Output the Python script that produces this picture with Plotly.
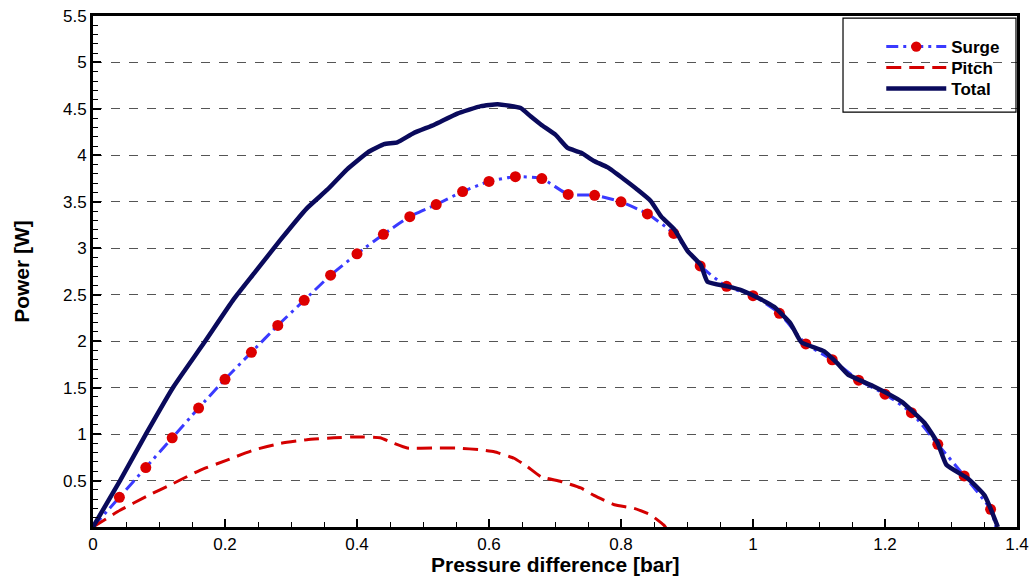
import plotly.graph_objects as go

# Surge (markers every 0.04 bar, line starts at origin and ends at zero)
surge_x = [0.0, 0.04, 0.08, 0.12, 0.16, 0.20, 0.24, 0.28, 0.32, 0.36, 0.40, 0.44, 0.48,
           0.52, 0.56, 0.60, 0.64, 0.68, 0.72, 0.76, 0.80, 0.84, 0.88, 0.92, 0.96,
           1.00, 1.04, 1.08, 1.12, 1.16, 1.20, 1.24, 1.28, 1.32, 1.36, 1.368]
surge_y = [0.0, 0.32, 0.64, 0.96, 1.28, 1.59, 1.88, 2.17, 2.44, 2.71, 2.94, 3.15, 3.34,
           3.47, 3.61, 3.72, 3.77, 3.75, 3.58, 3.57, 3.50, 3.37, 3.16, 2.81, 2.59,
           2.49, 2.30, 1.97, 1.80, 1.58, 1.43, 1.23, 0.89, 0.55, 0.19, 0.0]

pitch_x = [0.0, 0.041, 0.081, 0.122, 0.162, 0.203, 0.244, 0.284, 0.324, 0.365, 0.400,
           0.435, 0.456, 0.476, 0.517, 0.552, 0.588, 0.608, 0.638, 0.658, 0.679, 0.709,
           0.739, 0.759, 0.790, 0.820, 0.845, 0.865, 0.870]
pitch_y = [0.0, 0.18, 0.33, 0.47, 0.61, 0.72, 0.83, 0.90, 0.94, 0.96, 0.97,
           0.96, 0.90, 0.85, 0.85, 0.85, 0.83, 0.81, 0.74, 0.65, 0.54, 0.49,
           0.42, 0.34, 0.24, 0.20, 0.13, 0.02, -0.03]

total_x = [0.0, 0.041, 0.081, 0.122, 0.168, 0.213, 0.244, 0.284, 0.324, 0.355, 0.385,
           0.416, 0.441, 0.461, 0.486, 0.517, 0.552, 0.588, 0.613, 0.648, 0.663, 0.679,
           0.701, 0.719, 0.739, 0.759, 0.780, 0.805, 0.825, 0.845, 0.861, 0.881, 0.901,
           0.921, 0.931, 0.961, 0.982, 1.012, 1.032, 1.057, 1.073, 1.108, 1.128, 1.144,
           1.184, 1.225, 1.260, 1.280, 1.293, 1.326, 1.351, 1.371]
total_y = [0.0, 0.50, 1.01, 1.51, 1.98, 2.45, 2.73, 3.09, 3.43, 3.63, 3.85,
           4.03, 4.12, 4.14, 4.24, 4.33, 4.45, 4.53, 4.55, 4.51, 4.42, 4.33,
           4.22, 4.08, 4.03, 3.94, 3.87, 3.74, 3.63, 3.51, 3.34, 3.20, 2.97,
           2.82, 2.64, 2.59, 2.55, 2.45, 2.37, 2.19, 1.99, 1.89, 1.76, 1.64,
           1.51, 1.35, 1.12, 0.90, 0.67, 0.52, 0.34, 0.0]

y_ticks = [0.5, 1, 1.5, 2, 2.5, 3, 3.5, 4, 4.5, 5, 5.5]
y_tick_text = ["0.5", "1", "1.5", "2", "2.5", "3", "3.5", "4", "4.5", "5", "5.5"]
x_ticks = [0, 0.2, 0.4, 0.6, 0.8, 1.0, 1.2, 1.4]
x_tick_text = ["0", "0.2", "0.4", "0.6", "0.8", "1", "1.2", "1.4"]

FONT = "Liberation Sans, Arial, sans-serif"

marker_sizes = [0] + [11] * (len(surge_x) - 2) + [0]

fig = go.Figure()
fig.add_trace(go.Scatter(
    x=surge_x, y=surge_y, mode="lines+markers", name="<b>Surge</b>", legend="legend",
    line=dict(color="#3a3aff", width=3, dash="12px,5px,3px,5px", shape="spline", smoothing=0.5),
    marker=dict(color="#dd0000", size=marker_sizes, opacity=1, line=dict(width=0)),
))
fig.add_trace(go.Scatter(
    x=pitch_x, y=pitch_y, mode="lines", name="<b>Pitch</b>", legend="legend2",
    line=dict(color="#d40000", width=3, dash="15px,8px", shape="spline", smoothing=0.4),
))
fig.add_trace(go.Scatter(
    x=total_x, y=total_y, mode="lines", name="<b>Total</b>", legend="legend3",
    line=dict(color="#0a0a5c", width=4.5, shape="spline", smoothing=0.4),
))

fig.add_shape(type="rect", xref="paper", yref="paper",
              x0=0.8117, x1=0.9989, y0=0.812, y1=0.996,
              line=dict(color="black", width=1.2), fillcolor="rgba(0,0,0,0)")

fig.add_annotation(text="<b>Pressure difference [bar]</b>", xref="paper", yref="paper",
                   x=0.5, y=0, xanchor="center", yanchor="middle", yshift=-37,
                   showarrow=False, font=dict(family=FONT, size=21, color="black"))

legend_common = dict(xanchor="left", yanchor="top", bgcolor="rgba(0,0,0,0)", borderwidth=0,
                     font=dict(family=FONT, size=17, color="black"), itemwidth=60)

fig.update_layout(
    width=1034, height=576,
    margin=dict(l=93, r=17, t=16, b=49, autoexpand=False),
    plot_bgcolor="white", paper_bgcolor="white",
    font=dict(family=FONT, size=17, color="black"),
    showlegend=True,
    legend=dict(x=0.8531, y=0.9745, **legend_common),
    legend2=dict(x=0.8531, y=0.9334, **legend_common),
    legend3=dict(x=0.8531, y=0.8924, **legend_common),
    xaxis=dict(
        range=[0, 1.4], tickvals=x_ticks, ticktext=x_tick_text, automargin=False,
        ticks="inside", ticklen=8, tickwidth=1.5, tickcolor="black",
        minor=dict(ticks="inside", dtick=0.05, ticklen=5, tickwidth=1, tickcolor="black", showgrid=False),
        showline=True, linecolor="black", linewidth=3, mirror=True,
        showgrid=False, zeroline=False,
    ),
    yaxis=dict(
        range=[0, 5.5], tickvals=y_ticks, ticktext=y_tick_text, automargin=False,
        ticks="inside", ticklen=8, tickwidth=1.5, tickcolor="black",
        minor=dict(ticks="inside", dtick=0.1, ticklen=5, tickwidth=1, tickcolor="black", showgrid=False),
        showline=True, linecolor="black", linewidth=3, mirror=True,
        showgrid=True, gridcolor="#555555", gridwidth=1, griddash="dash",
        zeroline=False,
        title=dict(text="<b>Power [W]</b>", font=dict(size=21), standoff=28),
    ),
)

fig.write_html("out.html", post_script="document.body.style.margin='0';",
               config={"displayModeBar": False})
